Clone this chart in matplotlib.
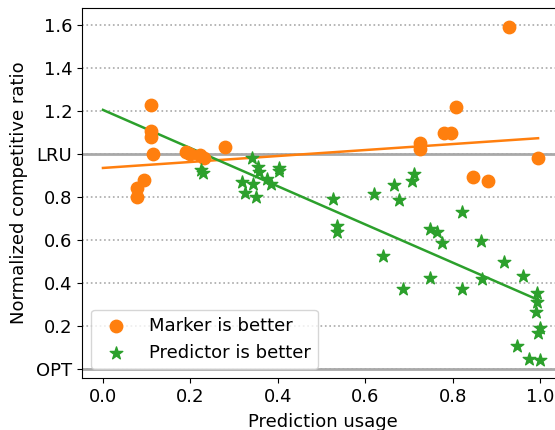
import numpy as np
import matplotlib
matplotlib.use("Agg")
import matplotlib.pyplot as plt

# marker is better
marker_x = [0.078, 0.078, 0.094, 0.110, 0.110, 0.110, 0.114, 0.190, 0.199, 0.221,
            0.231, 0.280, 0.724, 0.724, 0.779, 0.797, 0.807, 0.847, 0.881, 0.929, 0.995]
marker_y = [0.840, 0.801, 0.879, 1.228, 1.107, 1.079, 1.001, 1.011, 0.998, 0.995,
            0.981, 1.031, 1.050, 1.022, 1.096, 1.096, 1.220, 0.893, 0.876, 1.592, 0.980]

# predictor is better
pred_x = [0.225, 0.229, 0.317, 0.324, 0.341, 0.343, 0.349, 0.355, 0.356, 0.375,
          0.384, 0.402, 0.402, 0.527, 0.536, 0.536, 0.620, 0.640, 0.665, 0.678,
          0.687, 0.706, 0.712, 0.747, 0.747, 0.764, 0.775, 0.820, 0.821, 0.865,
          0.866, 0.916, 0.947, 0.961, 0.975, 0.990, 0.992, 0.992, 0.994, 0.999, 0.999]
pred_y = [0.925, 0.913, 0.871, 0.817, 0.980, 0.859, 0.801, 0.941, 0.918, 0.884,
          0.859, 0.933, 0.922, 0.789, 0.665, 0.636, 0.814, 0.526, 0.854, 0.786,
          0.372, 0.874, 0.907, 0.650, 0.425, 0.639, 0.585, 0.730, 0.372, 0.594,
          0.419, 0.499, 0.108, 0.433, 0.048, 0.264, 0.355, 0.313, 0.166, 0.192, 0.042]

# linear fits (intercept, slope)
marker_fit = (0.935, 0.139)
pred_fit = (1.205, -0.888)

yticks = [0.0, 0.2, 0.4, 0.6, 0.8, 1.0, 1.2, 1.4, 1.6]
yticklabels = ["OPT", "0.2", "0.4", "0.6", "0.8", "LRU", "1.2", "1.4", "1.6"]

fig = plt.figure(figsize=(5.55, 4.3), dpi=100)
ax = fig.add_axes([0.1477, 0.1209, 0.8667, 0.8605])

ax.axhline(1.0, color="darkgray", lw=2, zorder=1)
ax.axhline(0.0, color="darkgray", lw=2, zorder=1)

ax.scatter(marker_x, marker_y, color="C1", marker="o", s=80, label="Marker is better", zorder=3)
ax.scatter(pred_x, pred_y, color="C2", marker="*", s=90, label="Predictor is better", zorder=3)

xs = np.array([0.0, max(marker_x)])
ax.plot(xs, marker_fit[0] + marker_fit[1] * xs, color="C1", lw=1.8, zorder=2)
xs = np.array([0.0, max(pred_x)])
ax.plot(xs, pred_fit[0] + pred_fit[1] * xs, color="C2", lw=1.8, zorder=2)

ax.set_yticks(yticks)
ax.set_yticklabels(yticklabels)
ax.set_xticks([0.0, 0.2, 0.4, 0.6, 0.8, 1.0])
ax.tick_params(labelsize=13)
ax.yaxis.grid(True, linestyle=":", color="darkgray", lw=1.2)
ax.set_xlim(-0.048, 1.052)
ax.set_ylim(-0.042, 1.679)
ax.set_xlabel("Prediction usage", fontsize=13, labelpad=5)
ax.set_ylabel("Normalized competitive ratio", fontsize=13, labelpad=6)
ax.legend(loc="lower left", fontsize=13)

fig.savefig("out.png", dpi=100)
